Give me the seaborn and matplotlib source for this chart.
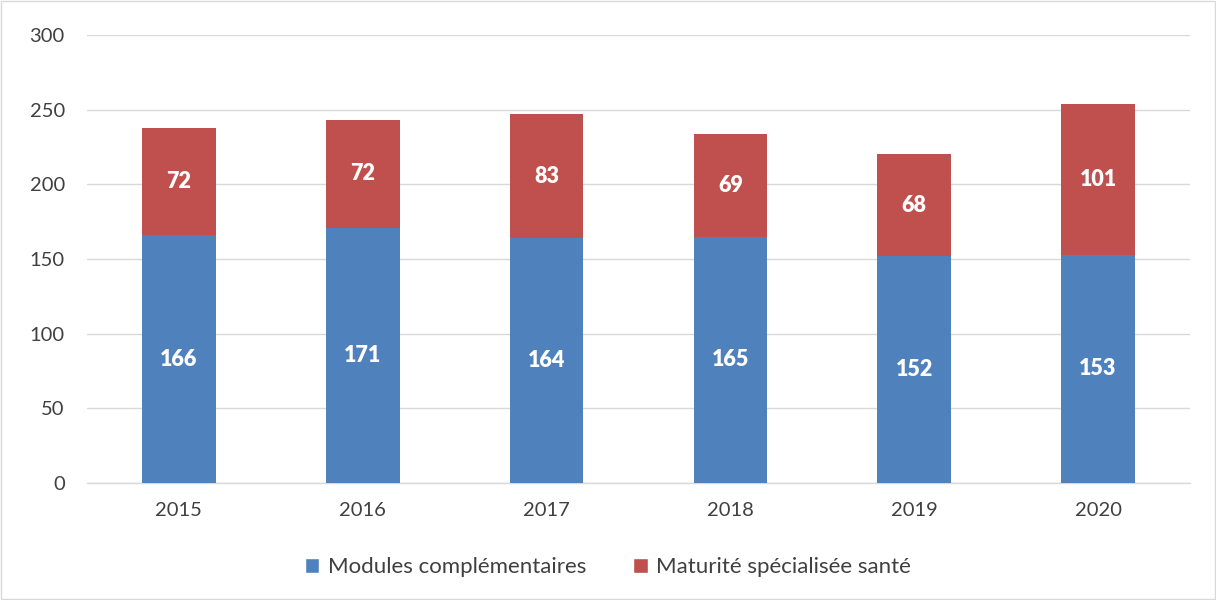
import matplotlib
matplotlib.use("Agg")
import matplotlib.pyplot as plt
import seaborn as sns
import pandas as pd
from matplotlib.patches import Patch, Rectangle

years = ["2015", "2016", "2017", "2018", "2019", "2020"]
modules = [166, 171, 164, 165, 152, 153]
maturite = [72, 72, 83, 69, 68, 101]
series_names = ["Modules complémentaires", "Maturité spécialisée santé"]
yticks = [0, 50, 100, 150, 200, 250, 300]

blue = "#4F81BD"
red = "#C0504D"

sns.set_theme(style="white")
plt.rcParams['font.family'] = ['Lato', 'DejaVu Sans']

totals = [m + s for m, s in zip(modules, maturite)]
df = pd.DataFrame({"year": years, "modules": modules, "maturite": maturite, "total": totals})

fig = plt.figure(figsize=(12.16, 6), dpi=100)
ax = fig.add_axes([87/1216, 1 - 483/600, (1190-87)/1216, (483-35)/600])

sns.barplot(data=df, x="year", y="total", color=red, width=0.40, ax=ax, saturation=1, zorder=3, linewidth=0)
sns.barplot(data=df, x="year", y="modules", color=blue, width=0.40, ax=ax, saturation=1, zorder=3, linewidth=0)

for i, (m, s) in enumerate(zip(modules, maturite)):
    ax.text(i, m / 2, str(m), ha="center", va="center", color="white", fontsize=15.5, fontweight="heavy", zorder=4)
    ax.text(i, m + s / 2, str(s), ha="center", va="center", color="white", fontsize=15.5, fontweight="heavy", zorder=4)

ax.set_ylim(0, 300)
ax.set_xlim(-0.5, len(years) - 0.5)
ax.set_yticks(yticks)
ax.set_yticklabels([str(t) for t in yticks], fontsize=14.5, color="#404040")
ax.tick_params(axis="x", labelsize=14.5, labelcolor="#404040", length=0, pad=14)
ax.tick_params(axis="y", length=0, pad=16)
ax.yaxis.grid(True, color="#D9D9D9", linewidth=1, zorder=0)
ax.set_axisbelow(True)
ax.set_xlabel("")
ax.set_ylabel("")
for side in ["top", "right", "left"]:
    ax.spines[side].set_visible(False)
ax.spines["bottom"].set_color("#D9D9D9")
ax.spines["bottom"].set_linewidth(1)

handles = [Patch(facecolor=blue, label=series_names[0]), Patch(facecolor=red, label=series_names[1])]
fig.legend(handles=handles, loc="center", bbox_to_anchor=(0.5, 1 - 567/600), ncol=2, frameon=False,
           fontsize=16, handlelength=0.65, handleheight=0.65, columnspacing=2.1, handletextpad=0.4,
           labelcolor="#404040")

fig.patches.append(Rectangle((0.001, 0.001), 0.998, 0.997, transform=fig.transFigure, fill=False,
                             edgecolor="#D9D9D9", linewidth=1))

fig.savefig("out.png", dpi=100)
